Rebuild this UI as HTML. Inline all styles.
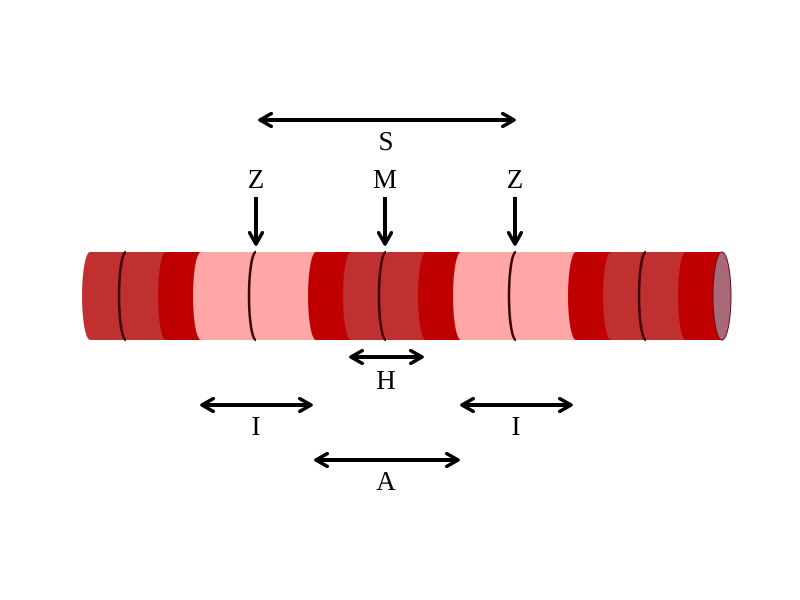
<!DOCTYPE html>
<html><head><style>body{margin:0;background:#fff}svg{display:block}</style></head><body>
<svg width="800" height="600" viewBox="0 0 800 600" xmlns="http://www.w3.org/2000/svg">
<defs>
<marker id="a" viewBox="0 0 10 10" refX="8" refY="5" markerWidth="4" markerHeight="4" orient="auto-start-reverse"><path d="M1,1 L8,5 L1,9" fill="none" stroke="#000" stroke-width="2.2" stroke-linecap="round" stroke-linejoin="round"/></marker>
</defs>
<g>
<rect x="90" y="252" width="76" height="88" fill="#c03030"/><ellipse cx="90" cy="296" rx="8" ry="44" fill="#c03030"/>
<rect x="166" y="252" width="35" height="88" fill="#c00000"/><ellipse cx="166" cy="296" rx="8" ry="44" fill="#c00000"/>
<rect x="201" y="252" width="115" height="88" fill="#ffa6a6"/><ellipse cx="201" cy="296" rx="8" ry="44" fill="#ffa6a6"/>
<rect x="316" y="252" width="35" height="88" fill="#c00000"/><ellipse cx="316" cy="296" rx="8" ry="44" fill="#c00000"/>
<rect x="351" y="252" width="75" height="88" fill="#c03030"/><ellipse cx="351" cy="296" rx="8" ry="44" fill="#c03030"/>
<rect x="426" y="252" width="35" height="88" fill="#c00000"/><ellipse cx="426" cy="296" rx="8" ry="44" fill="#c00000"/>
<rect x="461" y="252" width="115" height="88" fill="#ffa6a6"/><ellipse cx="461" cy="296" rx="8" ry="44" fill="#ffa6a6"/>
<rect x="576" y="252" width="35" height="88" fill="#c00000"/><ellipse cx="576" cy="296" rx="8" ry="44" fill="#c00000"/>
<rect x="611" y="252" width="75" height="88" fill="#c03030"/><ellipse cx="611" cy="296" rx="8" ry="44" fill="#c03030"/>
<rect x="686" y="252" width="36" height="88" fill="#c00000"/><ellipse cx="686" cy="296" rx="8" ry="44" fill="#c00000"/>
<ellipse cx="722" cy="296" rx="9" ry="44" fill="#a86878" stroke="#6a1020" stroke-width="1"/>
<g fill="none" stroke="#3a0000" stroke-width="2.5">
<path d="M126,252 A7,44 0 0 0 126,340"/>
<path d="M256,252 A7,44 0 0 0 256,340"/>
<path d="M386,252 A7,44 0 0 0 386,340"/>
<path d="M516,252 A7,44 0 0 0 516,340"/>
<path d="M646,252 A7,44 0 0 0 646,340"/>
</g>
</g>
<g stroke="#000" stroke-width="4" fill="none">
<line x1="260" y1="120" x2="514" y2="120" marker-start="url(#a)" marker-end="url(#a)"/>
<line x1="256" y1="197" x2="256" y2="244" marker-end="url(#a)"/>
<line x1="385" y1="197" x2="385" y2="244" marker-end="url(#a)"/>
<line x1="515" y1="197" x2="515" y2="244" marker-end="url(#a)"/>
<line x1="351" y1="357" x2="422" y2="357" marker-start="url(#a)" marker-end="url(#a)"/>
<line x1="202" y1="405" x2="311" y2="405" marker-start="url(#a)" marker-end="url(#a)"/>
<line x1="462" y1="405" x2="571" y2="405" marker-start="url(#a)" marker-end="url(#a)"/>
<line x1="316" y1="460" x2="458" y2="460" marker-start="url(#a)" marker-end="url(#a)"/>
</g>
<g font-family="Liberation Serif, serif" font-size="27" text-anchor="middle" fill="#000">
<text x="386" y="150">S</text>
<text x="256" y="188">Z</text>
<text x="385" y="188">M</text>
<text x="515" y="188">Z</text>
<text x="386" y="389">H</text>
<text x="256" y="435">I</text>
<text x="516" y="435">I</text>
<text x="386" y="490">A</text>
</g>
</svg>
</body></html>
